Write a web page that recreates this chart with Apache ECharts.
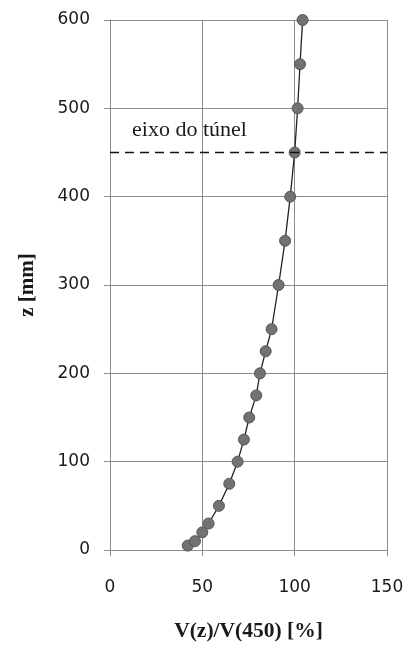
<!DOCTYPE html>
<html>
<head>
<meta charset="utf-8">
<script src="https://cdn.jsdelivr.net/npm/echarts@6/dist/echarts.min.js"></script>
<style>html,body{margin:0;padding:0;background:#fff;}#c{width:411px;height:645px;}</style>
</head>
<body>
<div id="c"></div>
<script>
var zValues = [5, 10, 20, 30, 50, 75, 100, 125, 150, 175, 200, 225, 250, 300, 350, 400, 450, 500, 550, 600];
var vRatio = [42.1, 46.0, 50.0, 53.4, 59.0, 64.6, 69.1, 72.5, 75.4, 79.2, 81.2, 84.3, 87.5, 91.3, 94.8, 97.6, 100, 101.6, 102.9, 104.3];
var tunnelAxisZ = 450;
var tunnelLabel = 'eixo do túnel';
var xName = 'V(z)/V(450) [%]';
var yName = 'z [mm]';

var pts = zValues.map(function (z, i) { return [vRatio[i], z]; });
var chart = echarts.init(document.getElementById('c'), null, {renderer: 'canvas'});
var gridColor = '#8c8c8c';
chart.setOption({
  animation: false,
  grid: {left: 110, right: 24, top: 20, bottom: 95, containLabel: false, outerBoundsMode: 'none'},
  xAxis: {
    type: 'value', min: 0, max: 150, interval: 50,
    name: xName, nameLocation: 'middle', nameGap: 70,
    nameTextStyle: {fontFamily: 'Liberation Serif', fontWeight: 'bold', fontSize: 21.5, color: '#1a1a1a'},
    axisLine: {show: true, lineStyle: {color: gridColor, width: 1}},
    axisTick: {show: true, length: 6, lineStyle: {color: gridColor}},
    axisLabel: {margin: 29, fontFamily: 'DejaVu Sans', fontSize: 17, color: '#1a1a1a'},
    splitLine: {show: true, lineStyle: {color: gridColor, width: 1}}
  },
  yAxis: {
    type: 'value', min: 0, max: 600, interval: 100,
    name: yName, nameLocation: 'middle', nameGap: 72, nameRotate: 90,
    nameTextStyle: {fontFamily: 'Liberation Serif', fontWeight: 'bold', fontSize: 21, color: '#1a1a1a'},
    axisLine: {show: true, lineStyle: {color: gridColor, width: 1}},
    axisTick: {show: true, length: 6, lineStyle: {color: gridColor}},
    axisLabel: {margin: 20, fontFamily: 'DejaVu Sans', fontSize: 17, color: '#1a1a1a'},
    splitLine: {show: true, lineStyle: {color: gridColor, width: 1}}
  },
  series: [{
    type: 'line',
    data: pts,
    symbol: 'circle',
    symbolSize: 11,
    lineStyle: {color: '#222', width: 1.3},
    itemStyle: {color: '#727272', borderColor: '#555', borderWidth: 1},
    markLine: {
      silent: true,
      symbol: ['none', 'none'],
      lineStyle: {color: '#111', type: [9, 6], width: 1.3},
      label: {
        show: true, position: 'insideStartTop', formatter: tunnelLabel,
        fontFamily: 'Liberation Serif', fontSize: 22, color: '#1a1a1a', distance: [22, 11]
      },
      data: [{yAxis: tunnelAxisZ}]
    }
  }]
});
</script>
</body>
</html>
